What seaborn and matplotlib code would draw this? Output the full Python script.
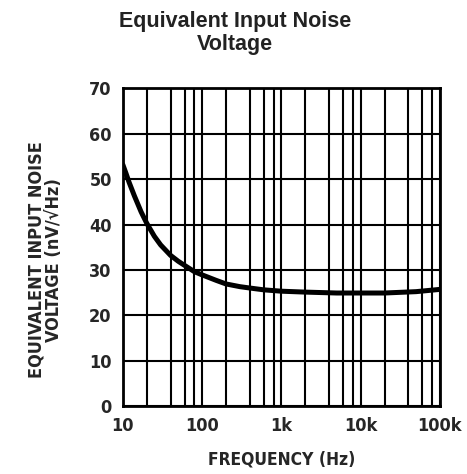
import numpy as np
import pandas as pd
import matplotlib
matplotlib.use('Agg')
import matplotlib.pyplot as plt
import seaborn as sns

# Data
freq_hz = [10, 11, 12, 14, 17, 20, 25, 30, 40, 50, 60, 80, 100, 150, 200,
           300, 400, 600, 1000, 2000, 5000, 20000, 50000, 100000]
noise_nv = [53.2, 51.2, 49.3, 46.3, 42.8, 40.3, 37.4, 35.5, 33.2, 31.9, 31.0,
            29.6, 28.9, 27.7, 26.9, 26.3, 26.0, 25.6, 25.3, 25.1, 24.9, 24.9,
            25.2, 25.7]

x_ticks = [10, 100, 1000, 10000, 100000]
x_tick_labels = ['10', '100', '1k', '10k', '100k']
y_ticks = [0, 10, 20, 30, 40, 50, 60, 70]

df = pd.DataFrame({'freq': freq_hz, 'noise': noise_nv})

sns.set_style('white')
plt.rcParams['font.family'] = ['DejaVu Sans']

fig = plt.figure(figsize=(4.67, 4.74), dpi=100)
ax = fig.add_axes([0.263, 0.1435, 0.679, 0.67])

# Log grid: decades plus 2, 4, 6, 8
grid_x = []
for dec in [10, 100, 1000, 10000]:
    for m in [1, 2, 4, 6, 8]:
        grid_x.append(dec * m)
grid_x.append(100000)
for gx in grid_x:
    ax.axvline(gx, color='black', lw=1.5, zorder=1)
for gy in y_ticks:
    ax.axhline(gy, color='black', lw=1.5, zorder=1)

sns.lineplot(data=df, x='freq', y='noise', ax=ax, color='black', lw=3.6, zorder=3)

ax.set_xscale('log')
ax.set_xlim(10, 100000)
ax.set_ylim(0, 70)
ax.set_xticks(x_ticks)
ax.set_xticklabels(x_tick_labels)
ax.set_yticks(y_ticks)
ax.minorticks_off()
ax.tick_params(axis='both', length=0, labelsize=13, pad=8)
for lab in ax.get_xticklabels() + ax.get_yticklabels():
    lab.set_fontweight('bold')
    lab.set_fontstretch('condensed')

for sp in ax.spines.values():
    sp.set_linewidth(2)
    sp.set_color('black')

ax.set_xlabel('FREQUENCY (Hz)', fontsize=12.5, fontweight='bold', labelpad=11,
              fontstretch='condensed')
ax.set_ylabel('EQUIVALENT INPUT NOISE\nVOLTAGE (nV/\u221aHz)', fontsize=13,
              fontweight='bold', labelpad=19, linespacing=0.95, fontstretch='condensed')
ax.yaxis.label.set_y(0.46)

fig.text(0.503, 0.930, 'Equivalent Input Noise\nVoltage', ha='center', va='center',
         fontsize=15.5, fontweight='bold', family=['Liberation Sans', 'DejaVu Sans'],
         color='#222222', linespacing=1.1)

fig.savefig('out.png', dpi=100)
